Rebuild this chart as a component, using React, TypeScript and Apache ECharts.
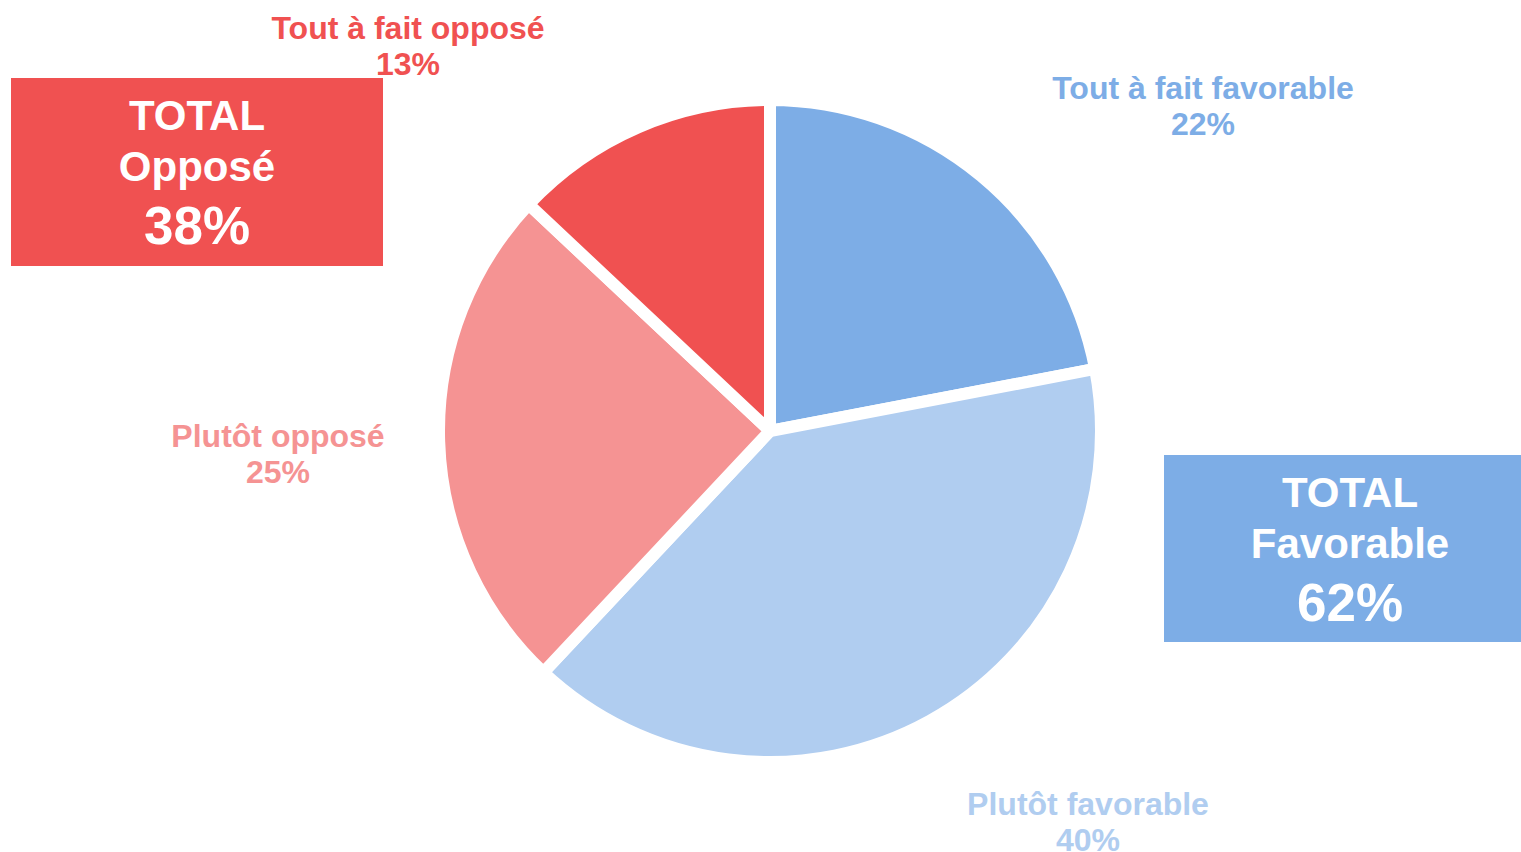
import React, { useEffect, useRef } from "react";
import * as echarts from "echarts";

const categories = ["Tout à fait favorable", "Plutôt favorable", "Plutôt opposé", "Tout à fait opposé"];
const values = [22, 40, 25, 13];
const colors = ["#7DADE6", "#B0CDF0", "#F59393", "#F05151"];
const favorableIdx = [0, 1];
const opposeIdx = [2, 3];
const labelPositions = [
  [1203, 106],
  [1088, 822],
  [278, 454],
  [408, 46],
];

const FONT = '"Liberation Sans", Arial, sans-serif';

export default function App() {
  const ref = useRef<HTMLDivElement>(null);
  useEffect(() => {
    document.body.style.margin = "0";
    const chart = echarts.init(ref.current!, null, { renderer: "svg" });
    const totalFav = favorableIdx.reduce((s, i) => s + values[i], 0);
    const totalOpp = opposeIdx.reduce((s, i) => s + values[i], 0);
    const boxText = (x: number, y: number, text: string, size: number) => ({
      type: "text",
      style: {
        text,
        x,
        y,
        fill: "#ffffff",
        font: `bold ${size}px ${FONT}`,
        align: "center",
        verticalAlign: "middle",
      },
    });
    chart.setOption({
      animation: false,
      backgroundColor: "#ffffff",
      series: [
        {
          type: "pie",
          center: [770, 431],
          radius: 331,
          startAngle: 90,
          clockwise: true,
          data: categories.map((name, i) => ({
            name,
            value: values[i],
            itemStyle: { color: colors[i] },
            label: { color: colors[i] },
          })),
          itemStyle: { borderColor: "#ffffff", borderWidth: 12 },
          label: {
            show: true,
            position: "outside",
            formatter: "{b}\n{c}%",
            fontFamily: FONT,
            fontWeight: "bold",
            fontSize: 32,
            lineHeight: 36,
            align: "center",
          },
          labelLine: { show: false },
          labelLayout: (params: any) => ({
            x: labelPositions[params.dataIndex][0],
            y: labelPositions[params.dataIndex][1],
            align: "center",
            verticalAlign: "middle",
          }),
          emphasis: { disabled: true },
        },
      ],
      graphic: [
        {
          type: "group",
          children: [
            { type: "rect", shape: { x: 11, y: 78, width: 372, height: 188 }, style: { fill: colors[3] } },
            boxText(197, 115, "TOTAL", 42),
            boxText(197, 166, "Opposé", 42),
            boxText(197, 225, `${totalOpp}%`, 53),
          ],
        },
        {
          type: "group",
          children: [
            { type: "rect", shape: { x: 1164, y: 455, width: 357, height: 187 }, style: { fill: colors[0] } },
            boxText(1350, 492, "TOTAL", 42),
            boxText(1350, 543, "Favorable", 42),
            boxText(1350, 602, `${totalFav}%`, 53),
          ],
        },
      ],
    });
    return () => chart.dispose();
  }, []);
  return <div ref={ref} style={{ width: 1521, height: 852 }} />;
}
